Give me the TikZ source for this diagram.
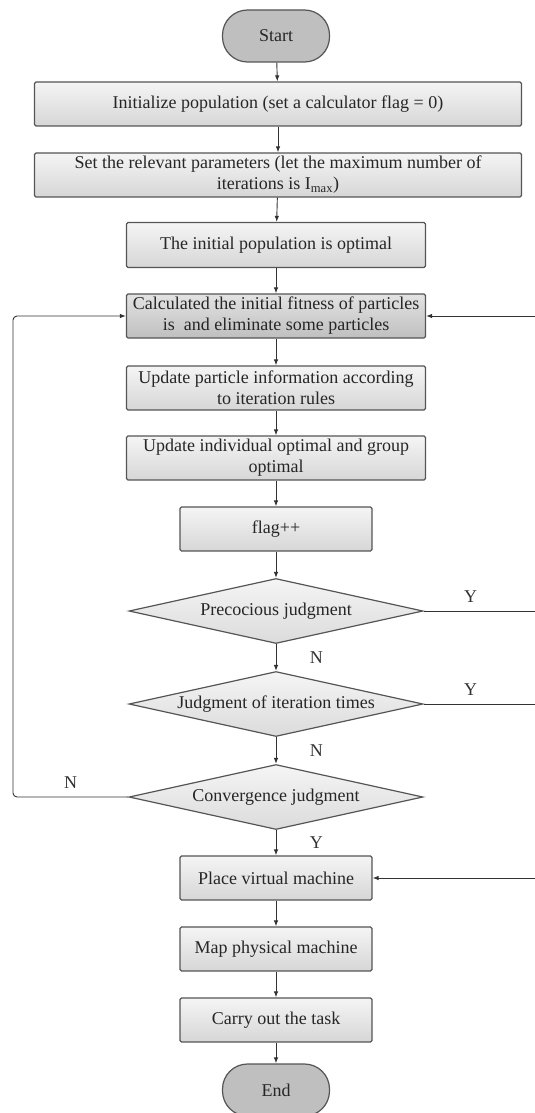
\documentclass[tikz,border=0pt]{standalone}
\usepackage{fontspec}
\setmainfont{Liberation Serif}
\usepackage{tikz}
\usetikzlibrary{shapes, arrows.meta, positioning, calc}
\definecolor{edgegray}{RGB}{85, 85, 85}
\definecolor{linegray}{RGB}{50, 50, 50}

\begin{document}
\begin{tikzpicture}[
  x=1pt, y=-1pt,
  font=\fontsize{18}{21}\selectfont,
  box/.style={draw=edgegray, line width=1.2pt, rounded corners=1.5pt,
              top color=gray!8, bottom color=gray!32, inner sep=0pt,
              minimum height=44pt, align=center, text=black!85},
  darkbox/.style={box, top color=gray!22, bottom color=gray!50},
  term/.style={draw=edgegray, line width=1.2pt, fill=gray!50, rounded corners=25pt,
               minimum width=107pt, minimum height=52pt, inner sep=0pt, text=black!85},
  decide/.style={diamond, draw=edgegray, line width=1.2pt, top color=gray!8,
                 bottom color=gray!28, aspect=4.5, inner sep=0pt,
                 minimum width=294pt, minimum height=65pt, text=black!85},
  arr/.style={-{Latex[length=6pt, width=4.5pt]}, line width=0.9pt, linegray},
  ln/.style={line width=0.9pt, linegray}
]
  \useasboundingbox (0,0) rectangle (535,1113);

  \node[term] (start) at (276,36) {Start};
  \node[box, minimum width=487pt] (init) at (278,104) {Initialize population (set a calculator flag = 0)};
  \node[box, minimum width=487pt] (param) at (278,175) {Set the relevant parameters (let the maximum number of\\iterations is I\textsubscript{max})};
  \node[box, minimum width=299pt, minimum height=45pt] (initopt) at (276,245) {The initial population is optimal};
  \node[darkbox, minimum width=299pt] (calc) at (276,316) {Calculated the initial fitness of particles\\is~~and eliminate some particles};
  \node[box, minimum width=299pt] (upd) at (276,388) {Update particle information according\\to iteration rules};
  \node[box, minimum width=299pt] (indiv) at (276,458) {Update individual optimal and group\\optimal};
  \node[box, minimum width=192pt] (flag) at (276,529) {flag++};
  \node[decide] (prec) at (276,611) {Precocious judgment};
  \node[decide] (iter) at (276,704) {Judgment of iteration times};
  \node[decide] (conv) at (276,797) {Convergence judgment};
  \node[box, minimum width=192pt] (vm) at (276,878) {Place virtual machine};
  \node[box, minimum width=192pt] (pm) at (276,949) {Map physical machine};
  \node[box, minimum width=192pt] (task) at (276,1020) {Carry out the task};
  \node[term] (end) at (276,1090) {End};

  \coordinate (loopL) at (13,0);
  \coordinate (loopR) at (541,0);

  \draw[arr] (start) -- (init);
  \draw[arr] (init) -- (param);
  \draw[arr] (param) -- (initopt);
  \draw[arr] (initopt) -- (calc);
  \draw[arr] (calc) -- (upd);
  \draw[arr] (upd) -- (indiv);
  \draw[arr] (indiv) -- (flag);
  \draw[arr] (flag) -- (prec);
  \draw[arr] (prec) -- node[right=30pt] {N} (iter);
  \draw[arr] (iter) -- node[right=30pt] {N} (conv);
  \draw[arr] (conv) -- node[right=30pt] {Y} (vm);
  \draw[arr] (vm) -- (pm);
  \draw[arr] (pm) -- (task);
  \draw[arr] (task) -- (end);

  % loops back to the fitness step
  \draw[arr, rounded corners=4pt] (conv.west) -- node[above=5pt, pos=0.5] {N} (conv.west -| loopL) |- (calc.west);
  \draw[ln] (prec.east) -- node[above=5pt, pos=0.4] {Y} (prec.east -| loopR);
  \draw[ln] (iter.east) -- node[above=5pt, pos=0.4] {Y} (iter.east -| loopR);
  \draw[arr] (prec.east -| loopR) -- (calc.east -| loopR) -- (calc.east);
  \draw[arr] (iter.east -| loopR) -- (vm.east -| loopR) -- (vm.east);
\end{tikzpicture}
\end{document}
